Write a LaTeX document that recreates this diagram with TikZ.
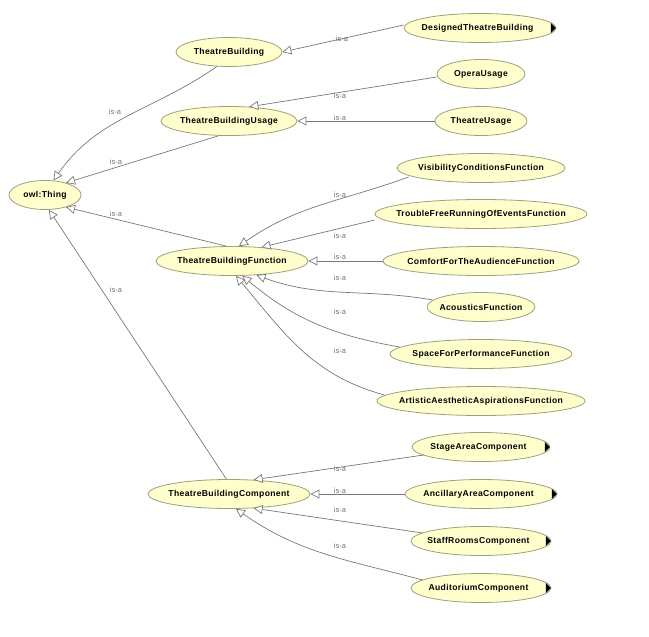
\documentclass[tikz,border=0pt]{standalone}
\usepackage{fontspec}
\setmainfont{Liberation Sans}
\usetikzlibrary{shapes.geometric,arrows.meta}
\definecolor{cfill}{RGB}{255,255,204}
\definecolor{cdraw}{RGB}{160,160,120}
\definecolor{cedge}{RGB}{120,120,120}
\begin{document}
\begin{tikzpicture}[x=1pt,y=-1pt,
  cls/.style={ellipse,draw=cdraw,fill=cfill,line width=0.8pt,inner sep=0pt,minimum width=#1,minimum height=29pt,font=\fontsize{8.6}{9}\selectfont\bfseries},
  isa/.style={draw=cedge,line width=0.7pt,-{Triangle[open,length=9pt,width=9pt,fill=white]}},
  lab/.style={font=\fontsize{7.5}{8}\selectfont,text=gray!90!black,inner sep=0pt}]
\useasboundingbox (0,0) rectangle (649,637);
\newcommand{\T}[1]{\makebox[0pt]{\addfontfeature{LetterSpace=4}#1}}
\newcommand{\more}[1]{\fill ([xshift=-0.5pt]#1.east) -- ++(-5,-5) -- ++(0,10) -- cycle;}
\node[cls=72] (thing) at (45,195) {\T{owl:Thing}};
\node[cls=106] (tb) at (229,52) {\T{TheatreBuilding}};
\node[cls=152] (dtb) at (480,28) {\T{DesignedTheatreBuilding\hspace{5pt}}};
\node[cls=136] (tbu) at (229,121) {\T{TheatreBuildingUsage}};
\node[cls=88] (opera) at (481,74) {\T{OperaUsage}};
\node[cls=92] (tu) at (481,121) {\T{TheatreUsage}};
\node[cls=152] (tbf) at (232,261) {\T{TheatreBuildingFunction}};
\node[cls=168] (vis) at (481,168) {\T{VisibilityConditionsFunction}};
\node[cls=212] (trouble) at (481,214) {\T{TroubleFreeRunningOfEventsFunction}};
\node[cls=196] (comfort) at (481,261) {\T{ComfortForTheAudienceFunction}};
\node[cls=108] (acou) at (481,307) {\T{AcousticsFunction}};
\node[cls=182] (space) at (481,354) {\T{SpaceForPerformanceFunction}};
\node[cls=208] (art) at (481,401) {\T{ArtisticAestheticAspirationsFunction}};
\node[cls=162] (tbc) at (229,494) {\T{TheatreBuildingComponent}};
\node[cls=138] (stage) at (481,447) {\T{StageAreaComponent\hspace{5pt}}};
\node[cls=152] (anc) at (481,494) {\T{AncillaryAreaComponent\hspace{5pt}}};
\node[cls=140] (staff) at (481,541) {\T{StaffRoomsComponent\hspace{5pt}}};
\node[cls=140] (aud) at (481,588) {\T{AuditoriumComponent\hspace{5pt}}};
\more{dtb}\more{stage}\more{anc}\more{staff}\more{aud}
% edges to owl:Thing
\draw[isa] (tb.230) to[out=215,in=55] (thing.60);
\draw[isa] (tbu.235) -- (thing.30);
\draw[isa] (tbf.110) -- (thing.-30);
\draw[isa] (tbc.100) -- (thing.-75);
% edges to TheatreBuilding
\draw[isa] ([yshift=3pt]dtb.west) -- (tb.east);
% edges to TheatreBuildingUsage
\draw[isa] ([yshift=-3pt]opera.west) -- (tbu.35);
\draw[isa] (tu.west) -- (tbu.east);
% edges to TheatreBuildingFunction
\draw[isa] ([xshift=12pt,yshift=-9pt]vis.west) to[out=200,in=35] (tbf.65);
\draw[isa] ([yshift=-6pt]trouble.west) -- (tbf.25);
\draw[isa] (comfort.west) -- (tbf.east);
\draw[isa] ([xshift=6pt,yshift=7pt]acou.west) to[out=170,in=-20] (tbf.-30);
\draw[isa] ([xshift=10pt,yshift=7pt]space.west) to[out=170,in=-40] (tbf.-55);
\draw[isa] ([xshift=8pt,yshift=6pt]art.west) to[out=165,in=-50] (tbf.-75);
% edges to TheatreBuildingComponent
\draw[isa] ([xshift=12pt,yshift=-8pt]stage.west) -- (tbc.30);
\draw[isa] (anc.west) -- (tbc.east);
\draw[isa] ([xshift=12pt,yshift=8pt]staff.west) -- (tbc.-30);
\draw[isa] ([xshift=12pt,yshift=8pt]aud.west) to[out=165,in=-35] (tbc.-65);
% labels
\node[lab] (l1) at (115,112) {is-a};
\node[lab] (l2) at (116,162) {is-a};
\node[lab] (l3) at (116,214) {is-a};
\node[lab] (l4) at (116,290) {is-a};
\node[lab] (l5) at (342,39) {is-a};
\node[lab] (l6) at (340,96) {is-a};
\node[lab] (l7) at (340,118) {is-a};
\node[lab] (l8) at (340,195) {is-a};
\node[lab] (l9) at (340,236) {is-a};
\node[lab] (l10) at (340,257) {is-a};
\node[lab] (l11) at (340,278) {is-a};
\node[lab] (l12) at (340,312) {is-a};
\node[lab] (l13) at (340,351) {is-a};
\node[lab] (l14) at (340,469) {is-a};
\node[lab] (l15) at (340,491) {is-a};
\node[lab] (l16) at (340,510) {is-a};
\node[lab] (l17) at (340,546) {is-a};
\end{tikzpicture}
\end{document}
